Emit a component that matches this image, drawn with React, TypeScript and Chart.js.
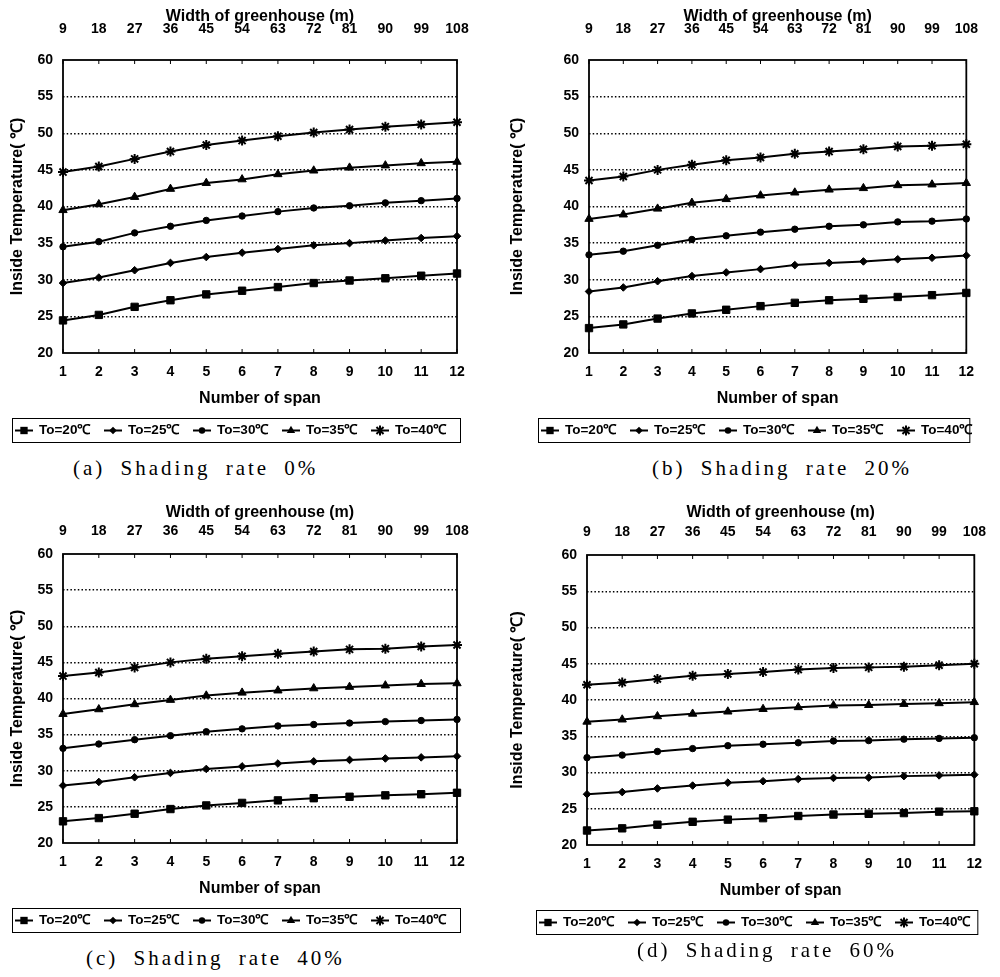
import React, { useEffect, useRef } from 'react';
import { Chart, registerables } from 'chart.js';

Chart.register(...registerables);

// ---------- data ----------
const spans = ['1', '2', '3', '4', '5', '6', '7', '8', '9', '10', '11', '12'];
const widths = ['9', '18', '27', '36', '45', '54', '63', '72', '81', '90', '99', '108'];
const seriesLabels = ['To=20℃', 'To=25℃', 'To=30℃', 'To=35℃', 'To=40℃'];
const yMin = 20;
const yMax = 60;
const yStep = 5;

const shading0To20 = [24.45, 25.2, 26.3, 27.2, 28.0, 28.5, 29.0, 29.55, 29.9, 30.2, 30.55, 30.85];
const shading0To25 = [29.55, 30.3, 31.3, 32.3, 33.1, 33.7, 34.2, 34.7, 35.0, 35.35, 35.7, 35.95];
const shading0To30 = [34.5, 35.2, 36.4, 37.3, 38.1, 38.7, 39.3, 39.8, 40.1, 40.5, 40.8, 41.1];
const shading0To35 = [39.5, 40.3, 41.3, 42.4, 43.2, 43.7, 44.4, 44.9, 45.3, 45.6, 45.9, 46.1];
const shading0To40 = [44.7, 45.45, 46.5, 47.5, 48.4, 49.0, 49.6, 50.1, 50.5, 50.9, 51.2, 51.5];

const shading20To20 = [23.4, 23.9, 24.7, 25.4, 25.9, 26.4, 26.85, 27.2, 27.4, 27.65, 27.9, 28.2];
const shading20To25 = [28.4, 28.95, 29.8, 30.5, 31.0, 31.45, 32.0, 32.3, 32.5, 32.8, 33.0, 33.3];
const shading20To30 = [33.4, 33.9, 34.7, 35.5, 36.0, 36.5, 36.9, 37.3, 37.5, 37.9, 38.0, 38.3];
const shading20To35 = [38.3, 38.9, 39.7, 40.5, 41.0, 41.5, 41.9, 42.3, 42.5, 42.9, 43.0, 43.2];
const shading20To40 = [43.55, 44.1, 45.0, 45.7, 46.3, 46.7, 47.2, 47.5, 47.8, 48.2, 48.3, 48.5];

const shading40To20 = [23.0, 23.45, 24.05, 24.7, 25.2, 25.55, 25.9, 26.2, 26.4, 26.6, 26.75, 26.95];
const shading40To25 = [27.95, 28.45, 29.1, 29.7, 30.25, 30.6, 31.0, 31.3, 31.5, 31.7, 31.85, 32.0];
const shading40To30 = [33.1, 33.7, 34.3, 34.85, 35.4, 35.8, 36.2, 36.4, 36.6, 36.8, 36.95, 37.1];
const shading40To35 = [37.85, 38.5, 39.2, 39.8, 40.4, 40.8, 41.1, 41.4, 41.6, 41.8, 42.0, 42.1];
const shading40To40 = [43.1, 43.6, 44.3, 45.0, 45.5, 45.85, 46.2, 46.5, 46.8, 46.9, 47.2, 47.4];

const shading60To20 = [22.0, 22.3, 22.8, 23.2, 23.5, 23.7, 24.0, 24.2, 24.3, 24.4, 24.6, 24.65];
const shading60To25 = [27.0, 27.3, 27.8, 28.2, 28.6, 28.8, 29.1, 29.25, 29.3, 29.5, 29.6, 29.7];
const shading60To30 = [32.05, 32.4, 32.9, 33.3, 33.7, 33.9, 34.1, 34.35, 34.4, 34.6, 34.7, 34.8];
const shading60To35 = [37.0, 37.3, 37.75, 38.1, 38.4, 38.75, 39.0, 39.25, 39.3, 39.45, 39.55, 39.7];
const shading60To40 = [42.1, 42.4, 42.9, 43.35, 43.6, 43.85, 44.2, 44.4, 44.5, 44.6, 44.8, 45.0];

const captions = ['(a) Shading rate 0%', '(b) Shading rate 20%', '(c) Shading rate 40%', '(d) Shading rate 60%'];
const xTitle = 'Number of span';
const x2Title = 'Width of greenhouse (m)';
const yTitle = 'Inside Temperature( ℃)';

// ---------- styles / layout ----------
const pointStyles = ['rect', 'rectRot', 'circle', 'triangle', 'star'];
const pointRadii = [5.2, 3.8, 3.2, 4.8, 5];
const FONT = "'Liberation Sans', Arial, Helvetica, sans-serif";

type Panel = {
  series: number[][];
  caption: string;
  cx: number; cy: number; w: number; h: number;
  L: number; T: number; R: number; B: number;
  topTickPad: number; topTitlePad: number;
  capX: number; capY: number;
};

const panels: Panel[] = [
  { series: [shading0To20, shading0To25, shading0To30, shading0To35, shading0To40], caption: captions[0],
    cx: 0, cy: 0, w: 500, h: 450, L: 63, T: 60, R: 457, B: 353, topTickPad: 22, topTitlePad: 7, capX: 73, capY: 458 },
  { series: [shading20To20, shading20To25, shading20To30, shading20To35, shading20To40], caption: captions[1],
    cx: 500, cy: 0, w: 500, h: 450, L: 89, T: 60, R: 483, B: 353, topTickPad: 22, topTitlePad: 7, capX: 652, capY: 458 },
  { series: [shading40To20, shading40To25, shading40To30, shading40To35, shading40To40], caption: captions[2],
    cx: 0, cy: 494, w: 500, h: 450, L: 63, T: 60, R: 457, B: 349, topTickPad: 14, topTitlePad: 9, capX: 86, capY: 948 },
  { series: [shading60To20, shading60To25, shading60To30, shading60To35, shading60To40], caption: captions[3],
    cx: 500, cy: 494, w: 500, h: 450, L: 87, T: 61, R: 480, B: 351, topTickPad: 14, topTitlePad: 9, capX: 637, capY: 940 },
];

function drawMarker(ctx: CanvasRenderingContext2D, style: string, x: number, y: number, r: number) {
  ctx.save();
  ctx.fillStyle = '#000';
  ctx.strokeStyle = '#000';
  ctx.lineWidth = 1;
  ctx.beginPath();
  if (style === 'rect') {
    const s = r * Math.SQRT1_2;
    ctx.rect(x - s, y - s, 2 * s, 2 * s);
    ctx.fill();
  } else if (style === 'rectRot') {
    ctx.moveTo(x, y - r); ctx.lineTo(x + r, y); ctx.lineTo(x, y + r); ctx.lineTo(x - r, y); ctx.closePath();
    ctx.fill();
  } else if (style === 'circle') {
    ctx.arc(x, y, r, 0, Math.PI * 2);
    ctx.fill();
  } else if (style === 'triangle') {
    ctx.moveTo(x, y - r); ctx.lineTo(x + r * 0.866, y + r * 0.5); ctx.lineTo(x - r * 0.866, y + r * 0.5); ctx.closePath();
    ctx.fill();
  } else if (style === 'star') {
    ctx.lineWidth = 2;
    ctx.moveTo(x, y - r); ctx.lineTo(x, y + r);
    const d = r * Math.SQRT1_2;
    ctx.moveTo(x - d, y - d); ctx.lineTo(x + d, y + d);
    ctx.moveTo(x + d, y - d); ctx.lineTo(x - d, y + d);
    ctx.stroke();
  }
  ctx.restore();
}

const framePlugin = {
  id: 'frame',
  beforeDatasetsDraw(chart: any) {
    const { ctx, chartArea: a } = chart;
    ctx.save();
    ctx.strokeStyle = '#000';
    ctx.lineWidth = 1.8;
    ctx.strokeRect(a.left, a.top, a.right - a.left, a.bottom - a.top);
    const xs = chart.scales.x;
    ctx.lineWidth = 1;
    for (let i = 0; i < spans.length; i++) {
      const px = xs.getPixelForValue(i);
      ctx.beginPath();
      ctx.moveTo(px, a.top); ctx.lineTo(px, a.top + 4);
      ctx.moveTo(px, a.bottom); ctx.lineTo(px, a.bottom - 4);
      ctx.stroke();
    }
    ctx.restore();
  },
};

const legendPlugin = {
  id: 'boxLegend',
  afterDraw(chart: any) {
    const { ctx, chartArea: a } = chart;
    const left = a.left - 51;
    const right = a.right + 3;
    const top = a.bottom + 65;
    const h = 24;
    ctx.save();
    ctx.strokeStyle = '#000';
    ctx.lineWidth = 1;
    ctx.strokeRect(left + 0.5, top + 0.5, right - left, h);
    const cy = top + h / 2 + 0.5;
    chart.data.datasets.forEach((ds: any, i: number) => {
      const x0 = left + 3 + i * 89;
      ctx.strokeStyle = '#000';
      ctx.lineWidth = 2;
      ctx.beginPath();
      ctx.moveTo(x0, cy); ctx.lineTo(x0 + 18, cy);
      ctx.stroke();
      drawMarker(ctx, pointStyles[i], x0 + 9, cy, pointRadii[i]);
      ctx.fillStyle = '#000';
      ctx.font = `bold 13.5px ${FONT}`;
      ctx.textBaseline = 'middle';
      ctx.textAlign = 'left';
      ctx.fillText(ds.label, x0 + 24, cy);
    });
    ctx.restore();
  },
};

function PanelChart({ p }: { p: Panel }) {
  const ref = useRef<HTMLCanvasElement | null>(null);
  useEffect(() => {
    if (!ref.current) return;
    const tickFont = { family: FONT, size: 14, weight: 'bold' as const };
    const titleFont = { family: FONT, size: 16, weight: 'bold' as const };
    const chart = new Chart(ref.current, {
      type: 'line',
      data: {
        labels: spans,
        datasets: p.series.map((vals, i) => ({
          label: seriesLabels[i],
          data: vals,
          borderColor: '#000',
          backgroundColor: '#000',
          borderWidth: 2,
          pointStyle: pointStyles[i] as any,
          pointRadius: pointRadii[i],
          pointBorderWidth: i === 4 ? 2 : 1,
          pointBackgroundColor: '#000',
          pointBorderColor: '#000',
          tension: 0,
          fill: false,
        })),
      },
      options: {
        responsive: false,
        maintainAspectRatio: false,
        animation: false,
        events: [],
        layout: { padding: { left: 0, top: 0, right: p.w - p.R, bottom: p.h - p.B - 60 } },
        plugins: { legend: { display: false }, tooltip: { enabled: false } },
        scales: {
          x: {
            type: 'category',
            position: 'bottom',
            offset: false,
            grid: { display: false, drawTicks: false, tickLength: 0 },
            border: { display: false },
            ticks: { color: '#000', font: tickFont, padding: 11, maxRotation: 0, autoSkip: false },
            title: { display: true, text: xTitle, color: '#000', font: titleFont, padding: { top: 0, bottom: 5 } },
            afterFit: (s: any) => { s.height = 60; },
          },
          x2: {
            type: 'category',
            position: 'top',
            labels: widths,
            offset: false,
            grid: { display: false, drawTicks: false, tickLength: 0 },
            border: { display: false },
            ticks: { color: '#000', font: tickFont, padding: p.topTickPad, maxRotation: 0, autoSkip: false },
            title: { display: true, text: x2Title, color: '#000', font: titleFont, padding: { top: p.topTitlePad, bottom: 0 } },
            afterFit: (s: any) => { s.height = p.T; },
          },
          y: {
            type: 'linear',
            min: yMin,
            max: yMax,
            ticks: { stepSize: yStep, color: '#000', font: tickFont, padding: 10 },
            grid: {
              drawTicks: false,
              lineWidth: 1.5,
              color: (c: any) => (c.tick && (c.tick.value === yMin || c.tick.value === yMax) ? 'rgba(0,0,0,0)' : '#000'),
            },
            border: { display: false, dash: [1.5, 2.2] },
            title: { display: true, text: yTitle, color: '#000', font: titleFont, padding: { top: 8, bottom: 0 } },
            afterFit: (s: any) => { s.width = p.L; },
          },
        },
      },
      plugins: [framePlugin, legendPlugin],
    });
    return () => chart.destroy();
  }, [p]);
  return (
    <canvas
      ref={ref}
      width={p.w}
      height={p.h}
      style={{ position: 'absolute', left: p.cx, top: p.cy, width: p.w, height: p.h }}
    />
  );
}

export default function App() {
  return (
    <div style={{ position: 'absolute', left: 0, top: 0, width: 1000, height: 977, background: '#fff', overflow: 'hidden' }}>
      {panels.map((p, i) => (
        <React.Fragment key={i}>
          <PanelChart p={p} />
          <div
            style={{
              position: 'absolute',
              left: p.capX,
              top: p.capY,
              fontFamily: "'Liberation Serif', 'Times New Roman', serif",
              fontSize: 21,
              lineHeight: '21px',
              letterSpacing: '3px',
              wordSpacing: '7px',
              whiteSpace: 'nowrap',
              color: '#000',
            }}
          >
            {p.caption}
          </div>
        </React.Fragment>
      ))}
    </div>
  );
}
